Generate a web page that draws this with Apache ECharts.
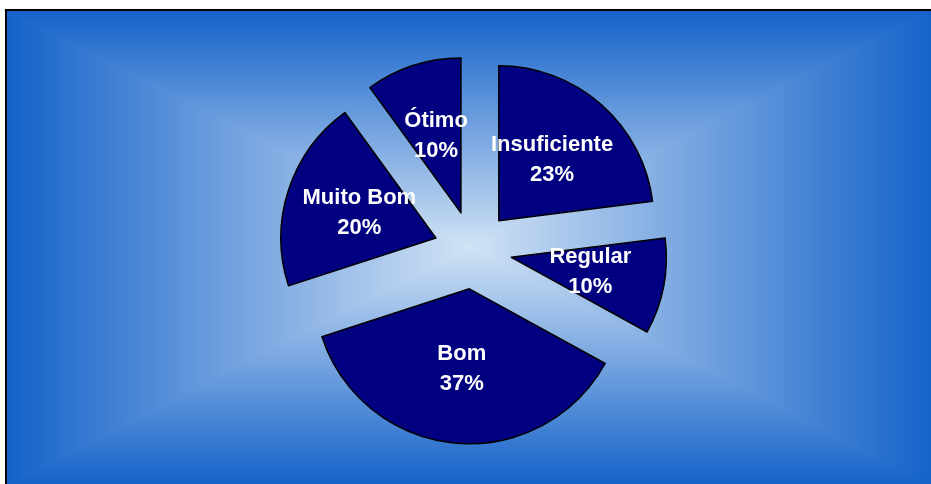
<!DOCTYPE html>
<html>
<head>
<meta charset="utf-8">
<script src="https://cdn.jsdelivr.net/npm/echarts@6/dist/echarts.min.js"></script>
<style>
html,body{margin:0;padding:0;background:#fff;}
#chart{width:931px;height:484px;}
</style>
</head>
<body>
<div id="chart"></div>
<script>
var categories = ['Insuficiente', 'Regular', 'Bom', 'Muito Bom', 'Ótimo'];
var values = [23, 10, 37, 20, 10];

var edgeColor = '#1462c9';
var centerColor = '#d2e3f5';
var L = 7, T = 11, R = 931, B = 484;
var cx = (L + R) / 2, cy = (T + B) / 2;

function grad(x, y, x2, y2) {
  return new echarts.graphic.LinearGradient(x, y, x2, y2, [
    { offset: 0, color: edgeColor },
    { offset: 1, color: centerColor }
  ]);
}
function tri(points, g) {
  return { type: 'polygon', z: -10, silent: true, shape: { points: points },
           style: { fill: g, stroke: g, lineWidth: 1.5 } };
}

var chart = echarts.init(document.getElementById('chart'), null, { renderer: 'canvas' });
chart.setOption({
  animation: false,
  backgroundColor: '#ffffff',
  graphic: [
    tri([[L, T], [R, T], [cx, cy]], grad(0, 0, 0, 1)),
    tri([[L, B], [R, B], [cx, cy]], grad(0, 1, 0, 0)),
    tri([[L, T], [L, B], [cx, cy]], grad(0, 0, 1, 0)),
    tri([[R, T], [R, B], [cx, cy]], grad(1, 0, 0, 0)),
    { type: 'polyline', z: -5, silent: true, shape: { points: [[L - 1, B + 2], [L - 1, T - 1], [R + 2, T - 1]] }, style: { stroke: '#000', lineWidth: 2, fill: null } }
  ],
  series: [{
    type: 'pie',
    center: [473, 250],
    radius: 155,
    startAngle: 90,
    clockwise: true,
    selectedMode: 'multiple',
    selectedOffset: 39,
    avoidLabelOverlap: false,
    minShowLabelAngle: 0,
    emphasis: { disabled: true },
    itemStyle: { color: '#000080', borderColor: '#000000', borderWidth: 1.5 },
    label: {
      show: true,
      position: 'inside',
      formatter: '{b}\n{c}%',
      color: '#ffffff',
      fontFamily: 'Liberation Sans, Arial, sans-serif',
      fontWeight: 'bold',
      fontSize: 22,
      lineHeight: 30,
      align: 'center'
    },
    labelLine: { show: false },
    labelLayout: { hideOverlap: false },
    data: categories.map(function (c, i) {
      return { name: c, value: values[i], selected: true };
    })
  }]
});

// ECharts hides inside labels wider than their sector; the reference shows them anyway.
var seriesData = chart.getModel().getSeriesByIndex(0).getData();
seriesData.each(function (idx) {
  var el = seriesData.getItemGraphicEl(idx);
  var txt = el && el.getTextContent && el.getTextContent();
  if (txt) { txt.ignore = false; }
});
chart.getZr().refreshImmediately();
</script>
</body>
</html>
